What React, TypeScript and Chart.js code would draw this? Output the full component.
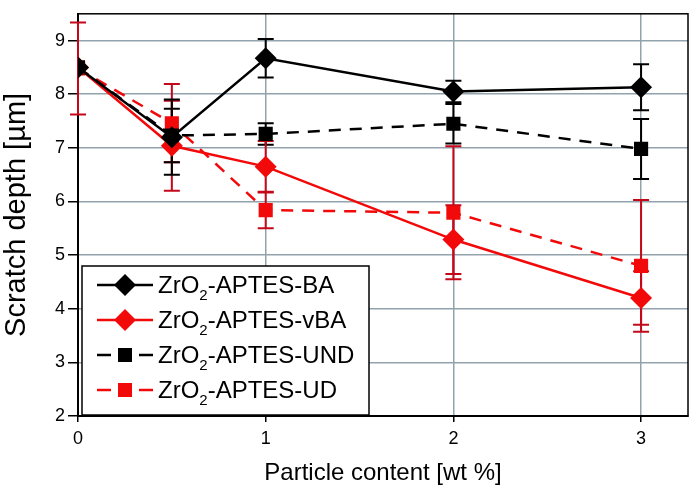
import React, { useEffect, useRef } from 'react';
import { Chart, registerables } from 'chart.js';

Chart.register(...registerables);

// ---- data ----
const xValues = [0, 0.5, 1, 2, 3];
const baValues = [8.5, 7.2, 8.67, 8.05, 8.13];
const baErrors = [0, 0.7, 0.36, 0.2, 0.43];
const vbaValues = [8.5, 7.04, 6.65, 5.29, 4.2];
const vbaErrors = [0, 0.84, 0.48, 0.64, 0.5];
const undValues = [8.5, 7.23, 7.26, 7.45, 6.98];
const undErrors = [0, 0.5, 0.2, 0.37, 0.56];
const udValues = [8.48, 7.46, 5.84, 5.79, 4.8];
const udErrors = [0.86, 0.73, 0.34, 1.24, 1.23];
const seriesLabels = ['ZrO₂-APTES-BA', 'ZrO₂-APTES-vBA', 'ZrO₂-APTES-UND', 'ZrO₂-APTES-UD'];
const xTicks = [0, 1, 2, 3];
const yTicks = [2, 3, 4, 5, 6, 7, 8, 9];
const xTitle = 'Particle content [wt %]';
const yTitle = 'Scratch depth [µm]';

const BLACK = '#000000';
const RED = '#f20a0a';
const RED_ERR = '#c4081a';
const GRID = '#93a3ad';
const FONT = '"Liberation Sans", Arial, Helvetica, sans-serif';

const errorSets = [baErrors, vbaErrors, undErrors, udErrors];
const valueSets = [baValues, vbaValues, undValues, udValues];
const errColors = [BLACK, RED_ERR, BLACK, RED_ERR];

const errorBarPlugin = {
  id: 'errorBars',
  beforeDatasetsDraw(chart: any) {
    const { ctx, scales, chartArea } = chart;
    const xs = scales.x;
    const ys = scales.y;
    ctx.save();
    // frame
    ctx.strokeStyle = BLACK;
    ctx.lineWidth = 1.5;
    ctx.strokeRect(chartArea.left, chartArea.top, chartArea.right - chartArea.left, chartArea.bottom - chartArea.top);
    const order = [3, 2, 1, 0];
    for (const d of order) {
      const vals = valueSets[d];
      const errs = errorSets[d];
      ctx.strokeStyle = errColors[d];
      ctx.lineWidth = 2;
      for (let i = 0; i < vals.length; i++) {
        const e = errs[i];
        if (!e) continue;
        const x = xs.getPixelForValue(xValues[i]);
        const yt = ys.getPixelForValue(vals[i] + e);
        const yb = ys.getPixelForValue(vals[i] - e);
        ctx.beginPath();
        ctx.moveTo(x, yt);
        ctx.lineTo(x, yb);
        ctx.moveTo(x - 8, yt);
        ctx.lineTo(x + 8, yt);
        ctx.moveTo(x - 8, yb);
        ctx.lineTo(x + 8, yb);
        ctx.stroke();
      }
    }
    ctx.restore();
  },
};

const legendPlugin = {
  id: 'customLegend',
  afterDraw(chart: any) {
    const { ctx } = chart;
    const bx = 82, by = 266, bw = 287, bh = 149;
    ctx.save();
    ctx.fillStyle = '#ffffff';
    ctx.fillRect(bx, by, bw, bh);
    ctx.strokeStyle = BLACK;
    ctx.lineWidth = 1.5;
    ctx.strokeRect(bx, by, bw, bh);
    chart.data.datasets.forEach((ds: any, i: number) => {
      const cy = 285 + i * 35;
      const dashed = ds.borderDash && ds.borderDash.length;
      ctx.strokeStyle = ds.borderColor;
      ctx.lineWidth = 2.5;
      ctx.beginPath();
      if (dashed) {
        ctx.moveTo(97, cy); ctx.lineTo(111, cy);
        ctx.moveTo(139, cy); ctx.lineTo(153, cy);
      } else {
        ctx.moveTo(97, cy); ctx.lineTo(153, cy);
      }
      ctx.stroke();
      ctx.fillStyle = ds.pointBackgroundColor;
      ctx.beginPath();
      if (ds.pointStyle === 'rectRot') {
        ctx.moveTo(125 - 11, cy); ctx.lineTo(125, cy - 11); ctx.lineTo(125 + 11, cy); ctx.lineTo(125, cy + 11);
        ctx.closePath();
      } else {
        ctx.rect(125 - 7, cy - 7, 14, 14);
      }
      ctx.fill();
      // text with subscript
      const parts = String(ds.label).split('₂');
      ctx.fillStyle = BLACK;
      ctx.textBaseline = 'alphabetic';
      ctx.textAlign = 'left';
      const base = cy + 8;
      let x = 158;
      ctx.font = `24px ${FONT}`;
      ctx.fillText(parts[0], x, base);
      x += ctx.measureText(parts[0]).width;
      ctx.font = `15px ${FONT}`;
      ctx.fillText('2', x, base + 7);
      x += ctx.measureText('2').width;
      ctx.font = `24px ${FONT}`;
      ctx.fillText(parts[1] || '', x, base);
    });
    ctx.restore();
  },
};

function makeData(vals: number[]) {
  return xValues.map((x, i) => ({ x, y: vals[i] }));
}

export default function App() {
  const ref = useRef<HTMLCanvasElement | null>(null);
  useEffect(() => {
    if (!ref.current) return;
    const chart = new Chart(ref.current, {
      type: 'line',
      data: {
        datasets: [
          {
            label: seriesLabels[0], data: makeData(baValues),
            borderColor: BLACK, backgroundColor: BLACK, pointBackgroundColor: BLACK, pointBorderColor: BLACK,
            borderWidth: 2.5, pointStyle: 'rectRot', pointRadius: 11, pointBorderWidth: 0,
          },
          {
            label: seriesLabels[1], data: makeData(vbaValues),
            borderColor: RED, backgroundColor: RED, pointBackgroundColor: RED, pointBorderColor: RED,
            borderWidth: 2.5, pointStyle: 'rectRot', pointRadius: 11, pointBorderWidth: 0,
          },
          {
            label: seriesLabels[2], data: makeData(undValues),
            borderColor: BLACK, backgroundColor: BLACK, pointBackgroundColor: BLACK, pointBorderColor: BLACK,
            borderWidth: 2.5, borderDash: [12, 9], pointStyle: 'rect', pointRadius: 10, pointBorderWidth: 0,
          },
          {
            label: seriesLabels[3], data: makeData(udValues),
            borderColor: RED, backgroundColor: RED, pointBackgroundColor: RED, pointBorderColor: RED,
            borderWidth: 2.5, borderDash: [12, 9], pointStyle: 'rect', pointRadius: 10, pointBorderWidth: 0,
          },
        ],
      } as any,
      options: {
        animation: false,
        responsive: false,
        devicePixelRatio: 1,
        layout: { padding: { top: 3, right: 4, left: 0, bottom: 0 } },
        plugins: { legend: { display: false }, tooltip: { enabled: false } },
        scales: {
          x: {
            type: 'linear', min: 0, max: 3.25,
            afterBuildTicks: (s: any) => { s.ticks = xTicks.map((v) => ({ value: v })); },
            afterFit: (s: any) => { s.height = 80; },
            grid: {
              color: (c: any) => (c.tick && c.tick.value === 0 ? 'rgba(0,0,0,0)' : GRID),
              lineWidth: 1.5, tickLength: 6, tickColor: BLACK, tickWidth: 1.5,
            },
            border: { display: true, color: BLACK, width: 2 },
            ticks: { color: BLACK, font: { family: FONT, size: 18 }, padding: 6 },
            title: { display: true, text: xTitle, color: BLACK, font: { family: FONT, size: 24 }, padding: { top: 0, bottom: 8 } },
          },
          y: {
            type: 'linear', min: 2, max: 9.5,
            afterBuildTicks: (s: any) => { s.ticks = yTicks.map((v) => ({ value: v })); },
            afterFit: (s: any) => { s.width = 78; },
            grid: {
              color: (c: any) => (c.tick && c.tick.value === 2 ? 'rgba(0,0,0,0)' : GRID),
              lineWidth: 1.5, tickLength: 10, tickColor: BLACK, tickWidth: 1.5,
            },
            border: { display: true, color: BLACK, width: 2 },
            ticks: { color: BLACK, font: { family: FONT, size: 18 }, padding: 3 },
            title: { display: true, text: yTitle, color: BLACK, font: { family: FONT, size: 29 }, padding: { top: 0, bottom: 0 } },
          },
        },
      } as any,
      plugins: [errorBarPlugin, legendPlugin],
    });
    return () => chart.destroy();
  }, []);
  return (
    <div style={{ position: 'fixed', left: 0, top: 0, width: 699, height: 496, background: '#fff' }}>
      <canvas ref={ref} width={699} height={496} />
    </div>
  );
}
